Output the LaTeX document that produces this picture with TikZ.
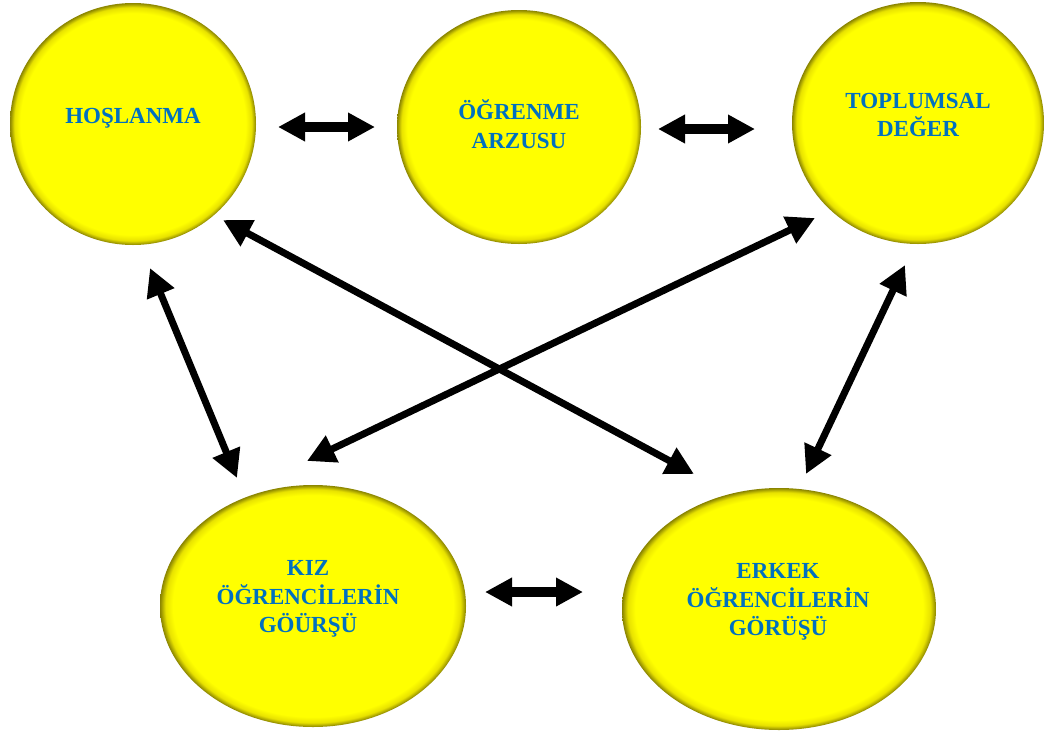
\documentclass[tikz,border=0pt]{standalone}
\usepackage{fontspec}
\setmainfont{Liberation Serif}
\usetikzlibrary{arrows.meta,calc,shapes.geometric}

\definecolor{discfill}{HTML}{FFFF00}
\definecolor{discbevel}{HTML}{E8E200}
\definecolor{discrim}{HTML}{8A8400}
\definecolor{labelblue}{HTML}{0070C0}

% flat yellow disc with a thin darker bevelled rim
\pgfdeclareradialshading{bead}{\pgfpoint{0bp}{0bp}}{%
  color(0bp)=(discfill); color(22.9bp)=(discfill);
  color(24.1bp)=(discbevel); color(25bp)=(discrim); color(50bp)=(discrim)}

\begin{document}
\begin{tikzpicture}[x=1pt,y=-1pt,
  disc/.style={ellipse, shade, shading=bead, inner sep=0pt, outer sep=0pt},
  caption/.style={font=\bfseries\fontsize{23}{28.5}\selectfont,
    text=labelblue, align=center, inner sep=0pt},
  twoway/.style={{Triangle[length=27pt,width=27pt]}-{Triangle[length=27pt,width=27pt]},
    line width=10pt},
  crossway/.style={{Triangle[length=28pt,width=28pt]}-{Triangle[length=28pt,width=28pt]},
    line width=7pt}]
\useasboundingbox (0,0) rectangle (1052,734);

% the five discs
\node[disc, minimum width=246pt, minimum height=242pt] (hos) at (133,124) {};
\node[disc, minimum width=244pt, minimum height=234pt] (ogr) at (519,127) {};
\node[disc, minimum width=252pt, minimum height=242pt] (top) at (918,123) {};
\node[disc, minimum width=306pt, minimum height=242pt] (kiz) at (313,606) {};
\node[disc, minimum width=314pt, minimum height=242pt] (erk) at (779,609) {};

% their captions
\node[caption] (hosT) at ($(hos)+(0,-6)$) {HOŞLANMA};
\node[caption] (ogrT) at ($(ogr)+(0,-3)$) {ÖĞRENME\\ARZUSU};
\node[caption] (topT) at ($(top)+(0,-8)$) {TOPLUMSAL\\DEĞER};
\node[caption] (kizT) at ($(kiz)+(-5,-7)$) {KIZ\\ÖĞRENCİLERİN\\GÖÜRŞÜ};
\node[caption] (erkT) at ($(erk)+(-1,-7)$) {ERKEK\\ÖĞRENCİLERİN\\GÖRÜŞÜ};

% two-way links along the rows
\draw[twoway] ($(hos)+(145,3)$) -- ($(ogr)+(-144,0)$);
\draw[twoway] ($(ogr)+(139,2)$) -- ($(top)+(-163,6)$);
\draw[twoway] ($(kiz)+(172,-14)$) -- ($(erk)+(-196,-17)$);

% two-way links between the rows
\draw[crossway] ($(hos)+(90,96)$) -- ($(erk)+(-85,-135)$);
\draw[crossway] ($(top)+(-103,95)$) -- ($(kiz)+(-6,-145)$);
\draw[crossway] ($(hos)+(17,144)$) -- ($(kiz)+(-76,-128)$);
\draw[crossway] ($(top)+(-13,142)$) -- ($(erk)+(27,-135)$);
\end{tikzpicture}
\end{document}
